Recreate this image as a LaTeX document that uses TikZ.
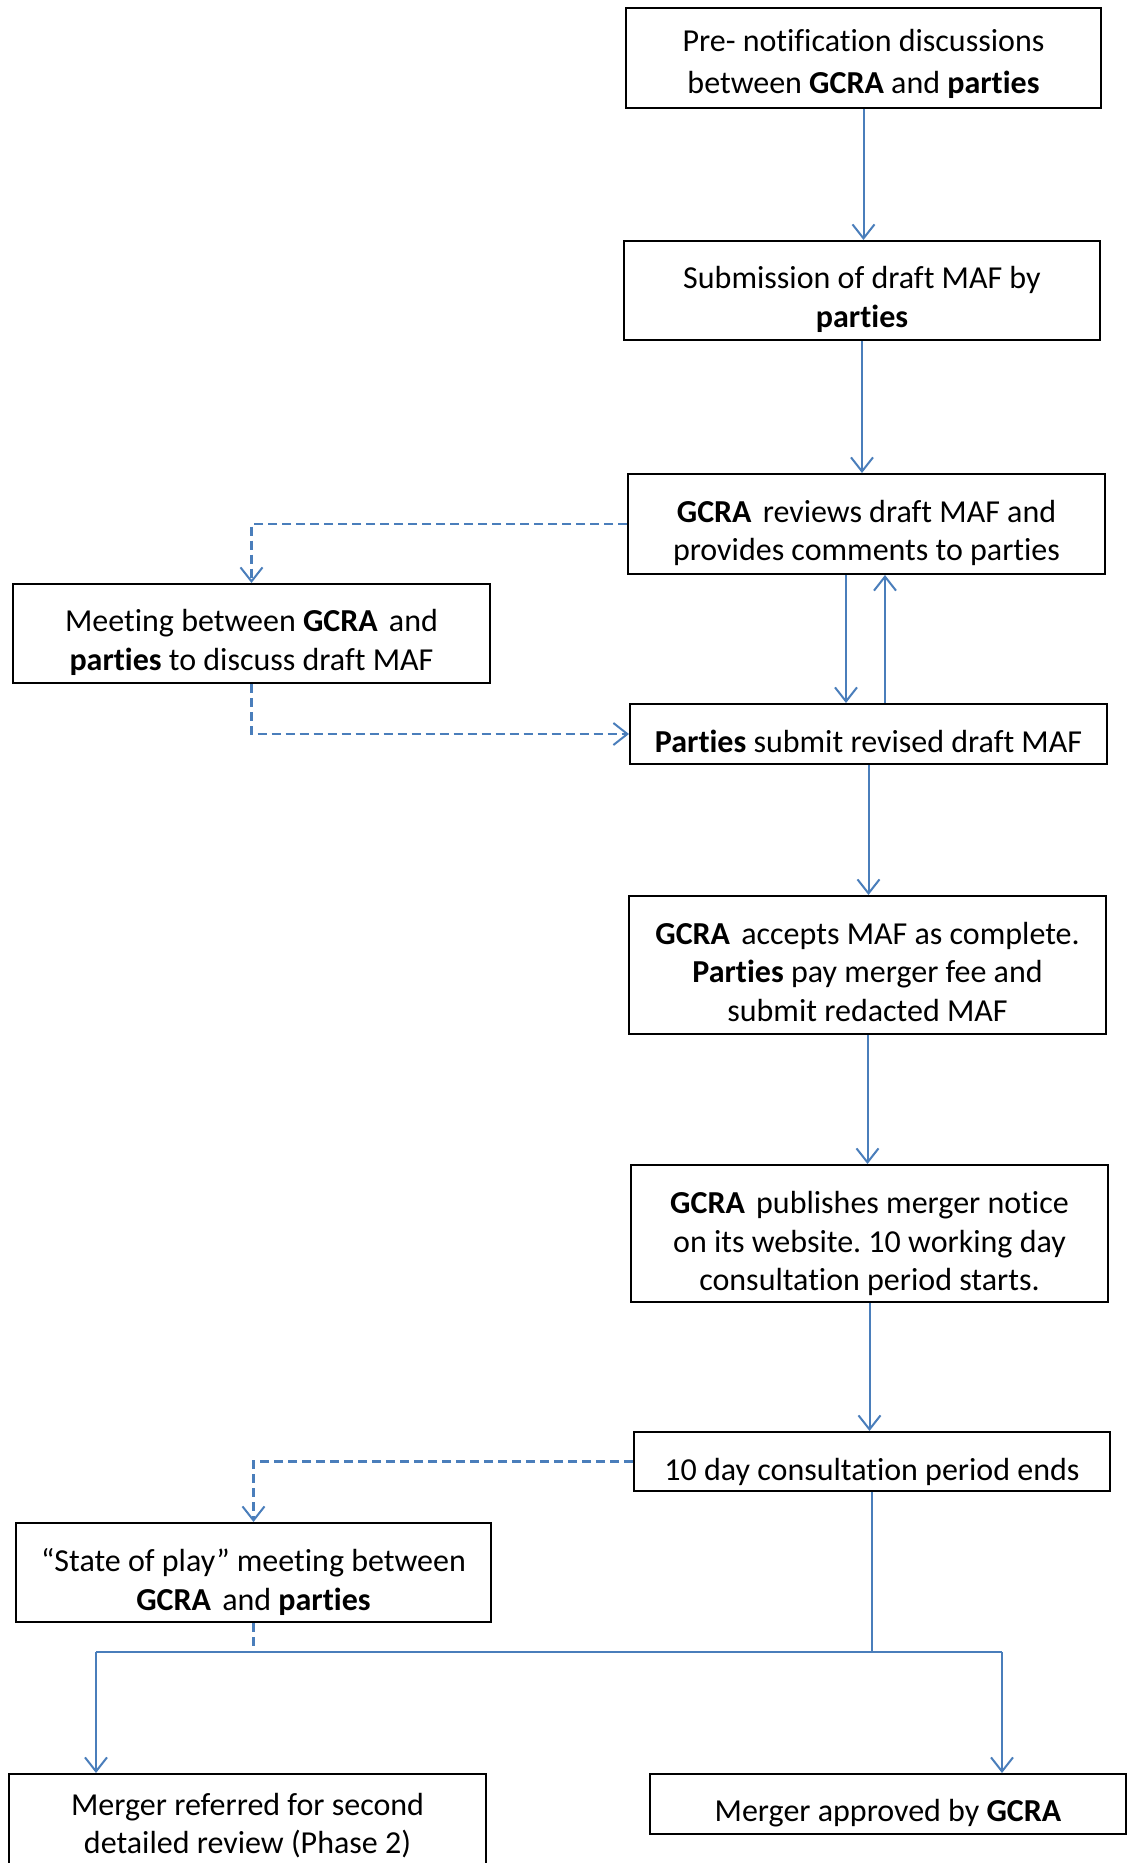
\documentclass[tikz,border=0pt]{standalone}
\usepackage{fontspec}
\setmainfont{Carlito}[Ligatures={NoCommon}]
\usetikzlibrary{arrows.meta}
\definecolor{flowblue}{HTML}{4A7EBB}
\frenchspacing
\tikzset{
  box/.style={draw=black, line width=2pt, inner sep=0pt, align=center,
    font=\fontsize{32}{38.5}\selectfont},
  conn/.style={draw=flowblue, line width=2pt},
  tip/.style={-{Straight Barb[length=14pt,width=22pt,line width=2pt]}},
  dconn/.style={conn, line width=2.2pt, dash pattern=on 9pt off 5pt},
}
\newcommand{\gap}{\hspace{0.35em}}
\newcommand{\txt}[2][11pt]{\raisebox{-#1}[\height][\depth]{\begin{tabular}{@{}c@{}}#2\end{tabular}}}
\begin{document}
\begin{tikzpicture}[x=1pt,y=-1pt]
\useasboundingbox (0,0) rectangle (1130,1863);
\clip (0,0) rectangle (1130,1863);
\fill[white] (0,0) rectangle (1130,1863);

\node[box, minimum width=475pt, minimum height=100pt] (pre) at (863.5,58)
  {\txt[7pt]{Pre- notification discussions\\[3pt]between \textbf{GCRA} and \textbf{parties}}};
\node[box, minimum width=476pt, minimum height=99pt] (sub) at (862,290.5)
  {\txt[10pt]{Submission of draft MAF by\\\textbf{parties}}};
\node[box, minimum width=477pt, minimum height=100pt] (rev) at (866.5,524)
  {\txt[10pt]{\textbf{GCRA}\gap reviews draft MAF and\\provides comments to parties}};
\node[box, minimum width=477pt, minimum height=99pt] (meet) at (251.5,633.5)
  {\txt[10pt]{Meeting between \textbf{GCRA}\gap and\\\textbf{parties} to discuss draft MAF}};
\node[box, minimum width=477pt, minimum height=60pt] (par) at (868.5,734)
  {\txt{\textbf{Parties} submit revised draft MAF}};
\node[box, minimum width=477pt, minimum height=138pt] (acc) at (867.5,965)
  {\txt[10pt]{\textbf{GCRA}\gap accepts MAF as complete.\\\textbf{Parties} pay merger fee and\\submit redacted MAF}};
\node[box, minimum width=477pt, minimum height=137pt] (pub) at (869.5,1233.5)
  {\txt{\textbf{GCRA}\gap publishes merger notice\\on its website. 10 working day\\consultation period starts.}};
\node[box, minimum width=476pt, minimum height=59pt] (ten) at (872,1461.5)
  {\txt{10 day consultation period ends}};
\node[box, minimum width=475pt, minimum height=99pt] (state) at (253.5,1572.5)
  {\txt{“State of play” meeting between\\\textbf{GCRA}\gap and \textbf{parties}}};
\node[box, minimum width=477pt, minimum height=96pt] (bl) at (247.5,1822)
  {\txt[5pt]{Merger referred for second\\detailed review (Phase 2)}};
\node[box, minimum width=476pt, minimum height=60pt] (br) at (888,1804)
  {\txt[10pt]{Merger approved by \textbf{GCRA}}};

\coordinate (hj) at (871,1652);
\coordinate (hl) at (96,1652);
\coordinate (hr) at (1002,1652);

\draw[conn,tip] (pre.south) -- (pre.south |- sub.north);
\draw[conn,tip] (sub.south) -- (sub.south |- rev.north);
\draw[conn,tip] ([xshift=-20.5pt]rev.south) -- ([xshift=-20.5pt]rev.south |- par.north);
\draw[conn,tip] ([xshift=18.5pt]rev.south |- par.north) -- ([xshift=18.5pt]rev.south);
\draw[conn,tip] (par.south) -- (par.south |- acc.north);
\draw[conn,tip] (acc.south) -- (acc.south |- pub.north);
\draw[conn,tip] (pub.south) -- (pub.south |- ten.north);

\draw[dconn,tip] (rev.west) -| (meet.north);
\draw[dconn,tip] (meet.south) |- (par.west);
\draw[dconn,tip] (ten.west) -| (state.north);
\draw[dconn] (state.south) -- (state.south |- hj);

\draw[conn] (ten.south) -- (ten.south |- hj);
\draw[conn] (hl) -- (hr);
\draw[conn,tip] (hl) -- (hl |- bl.north);
\draw[conn,tip] (hr) -- (hr |- br.north);
\end{tikzpicture}
\end{document}
